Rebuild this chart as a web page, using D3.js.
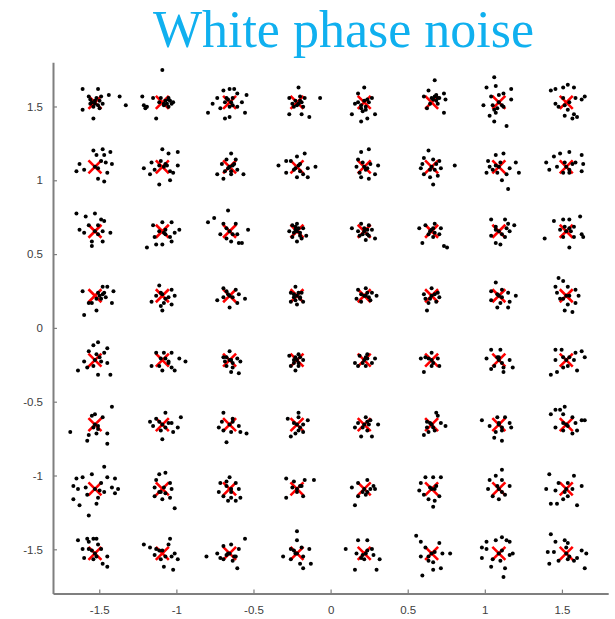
<!DOCTYPE html>
<html>
<head>
<meta charset="utf-8">
<script src="https://cdn.jsdelivr.net/npm/d3@7"></script>
<style>
  body { margin: 0; background: #fff; }
  svg { display: block; }
</style>
</head>
<body>
<script>
// 64-QAM constellation with white phase noise
const chartTitle = "White phase noise";

// ideal symbol levels on the in-phase axis (left to right)
const iLevels = [-1.528, -1.091, -0.655, -0.218, 0.218, 0.655, 1.091, 1.528];
// ideal symbol levels on the quadrature axis (top row first)
const qLevels = [1.528, 1.091, 0.655, 0.218, -0.218, -0.655, -1.091, -1.528];

const xTickValues = [-1.5, -1, -0.5, 0, 0.5, 1, 1.5];
const yTickValues = [-1.5, -1, -0.5, 0, 0.5, 1, 1.5];
const xTickLabels = ["-1.5", "-1", "-0.5", "0", "0.5", "1", "1.5"];
const yTickLabels = ["-1.5", "-1", "-0.5", "0", "0.5", "1", "1.5"];

// received samples: offsets from each ideal symbol, in hundredths,
// stored as [dI, dQ, dI, dQ, ...], one list per column
const noiseRow1 = [
  [-8,9, 2,9, -4,4, 4,4, 9,5, -8,-5, -1,-11, 3,-4, 5,-1, -3,-1, 16,4, 20,-2, 0,1, 2,-2, -2,0, 1,3, -1,-3, 3,1, -3,2, 0,-1],
  [-13,4, -12,-2, -10,-3, -4,-11, -6,3, -1,3, 4,3, 7,0, 4,-3, 1,-2, 0,22, -11,-4, 2,1, 3,-1, 5,1, 1,-1, -2,0, 4,2, 6,-1],
  [-14,-7, -11,-1, -8,3, -4,8, 0,9, 3,9, 5,6, 11,5, 8,0, 10,-7, 5,-3, -3,-11, 0,-10, -6,-4, 2,3, -2,3, 1,0, -1,2, 2,-2, 0,-3, -3,0],
  [1,10, -5,3, 2,4, 5,3, 15,3, -5,-8, 3,-8, 8,-10, 4,-3, -2,-3, 1,-1, -1,1, 2,1, 0,-2, -3,-1, 3,0],
  [0,10, -4,6, -6,-1, -8,-8, -2,-13, 2,-11, 7,-8, 5,3, 1,-3, -2,-4, -4,0, 3,0, 0,1, -2,-2, 1,-5, -1,-6, 2,2],
  [2,15, -2,8, -5,4, 3,5, 8,6, 9,2, 8,-7, -3,-4, 4,-1, 0,3, 5,3, 1,2, 3,1, -1,-1, 2,4, 4,3],
  [-3,17, -8,10, -2,11, 8,9, 3,6, -5,4, 8,2, -10,-2, -6,-9, -3,-13, 5,-16, -3,-5, -4,-2, 3,-3, 0,5, -2,-7, -1,-4, 0,0, 2,-2],
  [-10,8, -7,9, -2,10, 1,12, 5,10, 12,4, 10,2, 6,3, -7,-1, -5,-3, -1,-9, 5,-8, 4,-11, 7,-10, 1,-5, -2,3, 2,0, -1,-2]
];
const noiseRow2 = [
  [-1,11, 5,12, 10,10, 6,8, 11,2, -10,2, -12,-3, -7,-2, 2,-8, 6,-10, 8,-4, 1,8, 4,4, 7,3, 0,0, 2,-1],
  [0,12, 4,9, 10,10, -7,3, -12,-1, -8,-5, -2,-12, 5,-9, 7,-4, 10,1, 2,2, -1,4, -5,-2, 5,-3, 1,0, 3,1, -2,1],
  [1,9, -2,5, -5,2, -8,-5, -4,-8, 5,-2, 9,-5, 3,2, 1,-3, -3,-3, 4,5, 0,0, 2,1, -1,-1, 1,-5],
  [5,9, 0,7, -7,4, -12,1, -4,4, 2,2, 7,-1, 12,0, 7,-7, 4,-5, -2,-2, -7,-4, 0,-7, 1,1, -1,-1, 2,-3],
  [-2,10, 3,12, -4,5, -5,0, 4,2, 9,1, 7,-5, 3,-8, -2,-7, 1,-2, -3,-4, 0,0, 2,-1, -1,3],
  [-2,11, -5,6, -6,2, -7,-1, -5,-5, 1,-12, -1,-7, 4,-6, 6,-1, 5,4, 15,1, 1,5, -1,-2, 2,-2, 0,0, 3,2],
  [-2,8, 3,9, -7,4, -6,0, -8,-4, -1,-4, 2,-9, 6,-15, 11,3, 13,-4, 7,-1, 1,3, -4,-2, 5,-5, 0,0, -2,1],
  [-8,7, -4,9, 2,10, 10,8, 6,3, 11,2, 10,-3, -13,3, -11,-2, -6,0, -2,-4, 2,-4, 4,2, -1,3, 0,0, 2,-2]
];
const noiseRow3 = [
  [-12,12, -6,10, 0,12, 4,8, 6,7, -10,1, -7,-1, 10,-1, 5,0, -2,-7, -2,-10, 5,-7, 2,4, -4,4, 0,0, 2,-2],
  [0,6, 6,6, -6,4, 11,1, -5,-4, 2,-2, 6,-7, -10,-11, -4,-9, 0,-9, 5,-4, 8,-1, -2,0, 2,1, 1,-1],
  [-1,14, -10,9, -14,6, -4,5, 4,5, 12,1, -6,-2, -2,-5, 1,-7, 6,-8, 8,-8, 5,-2, 0,0, -2,2, 2,-2],
  [-5,0, -3,4, 0,5, 4,2, 6,-3, 3,-5, 0,-7, -3,-4, -1,1, 2,-1, 0,0, 1,2, -2,-1, 2,-3, -1,3],
  [-8,2, -2,5, 3,4, 5,1, 7,-5, 1,-6, -3,-3, 2,-2, 0,2, -4,0, 0,0, 2,1, -1,-2, 3,-3],
  [-8,2, -4,4, 2,5, 6,2, 5,-2, 1,-4, -2,-2, -6,-8, 8,-10, 10,-11, 0,1, -1,0, 2,-1, 1,2],
  [-5,8, 4,8, 6,5, -2,3, 10,4, 7,0, -5,-3, -2,-8, 1,-9, 4,-4, 5,2, 0,0, -2,1, 2,-2],
  [-8,7, -2,8, 2,8, 9,10, 5,3, -14,-5, -4,1, -2,-4, 2,-11, 5,-4, 10,-2, 11,-4, 3,0, -1,3, 0,0, 2,2]
];
const noiseRow4 = [
  [-8,3, 5,6, 8,6, 12,3, 11,-5, 4,-2, 7,-1, -2,-5, -4,-5, 1,-10, -7,-13, 5,1, 2,2, 3,0, 6,2, 1,-2],
  [-2,7, 6,4, 8,0, 4,-1, 1,-5, 6,-6, -1,-7, 0,-10, -7,-4, -4,0, 0,1, 2,-2, -1,2],
  [-4,5, 4,4, 6,1, 10,-2, 5,-5, 0,-8, -8,-3, -4,-1, -1,1, 2,-1, 0,0, -2,3],
  [-1,6, -4,2, 3,2, 4,-4, 0,-6, -4,-4, -2,-1, 2,-1, 0,0, 1,2, -2,1, 2,-2, -1,-3],
  [-4,4, 1,5, 5,2, 8,0, 4,-3, -2,-4, -5,-2, 1,0, 3,-1, 0,0, -2,1, 2,2],
  [0,5, -5,1, -4,-2, 5,-1, 3,-4, -2,-5, -3,-10, 4,2, -1,-2, 0,0, 2,1],
  [-2,9, -5,3, 2,4, 6,2, 11,0, 7,-4, 1,-5, -1,-8, 6,-8, -5,-3, 0,0, 2,-1, -1,1],
  [-5,12, -2,10, -7,6, -6,2, 1,6, 6,4, 8,0, 6,-5, 1,-6, -1,-10, 4,-11, -4,-2, 2,0, 0,0, -2,-2]
];
const noiseRow5 = [
  [2,12, -1,10, 8,8, -4,6, 6,5, 1,4, -7,-1, 4,-1, 8,-2, -11,-7, -5,-5, 2,-10, 10,-10, -1,-4, 0,0, 3,2],
  [-4,5, 1,5, 6,5, 11,1, 15,-1, -7,-4, -1,1, 4,-1, 6,-5, 8,-7, 0,-7, -2,-4, 2,1, 4,-2],
  [0,6, -4,2, 5,1, 7,-1, -2,-4, 2,-5, 1,-8, 6,-9, -3,-1, 1,0, 0,0, -2,2, 2,-2],
  [-5,3, 1,4, 4,0, 1,-4, -4,-4, -1,-7, -2,0, 0,0, 2,2, -2,-2, 1,-2, -1,2],
  [-6,-2, -3,3, 2,4, 7,1, 5,-2, 1,-4, -4,-4, 0,0, 2,1, -1,-2, 1,2],
  [0,5, -7,1, -4,2, 4,1, 5,-4, 0,-4, -5,-8, 1,-2, 0,0, -2,1],
  [-5,7, 1,7, -8,1, 7,0, 9,-5, 3,-5, -3,-4, -5,-6, 3,-8, 0,2, 0,0, 2,-2, -1,2],
  [-7,7, -3,7, 6,5, 10,6, 12,2, -7,0, -2,2, 5,0, 7,-7, -6,-8, -10,-10, 1,-4, -2,-5, 0,0, 2,2]
];
const noiseRow6 = [
  [11,12, -2,6, 0,7, 5,5, -16,-5, -4,-7, 1,-6, 8,-6, -5,-11, 8,-13, 2,-1, -1,-2, 0,0, 2,-3],
  [-8,2, -4,4, 2,8, 6,1, 12,5, 10,-2, 7,-5, -1,-4, -6,-1, 0,-10, 4,1, 0,0, -2,2, 2,-2],
  [-4,8, -5,2, -7,-2, 2,4, 6,-1, 7,-5, 11,-6, 1,-5, -2,-12, -4,-4, 0,0, 2,2],
  [1,8, -6,4, 1,5, 7,3, 4,0, 1,-4, -4,-8, -1,-6, 4,-5, 0,0, -2,1, 2,-2],
  [1,5, -4,1, -6,-2, 4,3, 9,0, 2,-4, -2,-8, 5,-8, 0,0, 3,0, -1,-2, 2,2],
  [3,8, 4,6, -3,2, 6,1, 9,-1, 2,-4, -2,-5, -5,-7, 0,0, -1,1, 1,-2, -3,-2],
  [-11,3, -1,5, 4,5, 7,1, 8,-2, 2,-4, -2,-5, -3,-9, 2,-11, -6,-1, 0,1, 0,0, 2,-2],
  [-10,7, -7,10, -4,10, -1,12, -2,7, 4,5, 10,3, 12,3, 6,1, -7,-2, -2,-4, 4,-6, 7,-4, 1,-1, 0,0, -2,1]
];
const noiseRow7 = [
  [6,15, -12,7, -8,8, -2,10, 8,8, 13,7, -14,2, -11,0, 15,0, 11,1, 6,-2, 13,-3, -14,-7, -10,-11, -5,-4, 2,-6, 1,-10, -4,-18, 4,4, -6,1, 0,0, 3,-1],
  [-2,10, 2,11, -4,6, 5,4, -5,1, 6,0, -5,-5, 0,-7, 5,-6, 8,-13, -1,-2, 1,1, -2,-2, 2,-3],
  [0,8, -6,4, -7,-2, -2,5, 4,4, 6,0, 7,-6, 1,-6, -4,-5, -1,-8, 4,-8, 1,0, -2,2, 1,-2],
  [-7,7, -2,5, 5,6, 11,6, 3,2, 4,-5, -7,-6, 0,-2, -3,1, 0,0, 2,2],
  [-4,4, 2,6, 6,2, 7,0, 1,-4, -4,-5, -6,-11, -8,1, -1,-2, 4,0, 0,0, 2,-2],
  [-4,8, 1,8, 6,8, -7,4, -8,-1, -5,-4, 2,0, 5,-5, -2,-7, 2,-8, 1,-12, -1,1, 0,0, 3,2],
  [2,13, -2,9, -6,6, 2,6, 7,2, -7,0, -4,-5, 0,-7, 4,-4, -1,2, 0,0, 2,-2],
  [-11,10, 5,9, -5,4, -13,0, -7,-1, -1,-2, 10,2, 4,0, -10,-10, -6,-10, -2,-7, 7,-11, 1,-5, 1,4, 0,0]
];
const noiseRow8 = [
  [-11,9, -5,10, -1,10, 1,10, -4,8, 2,6, -8,3, -4,3, 4,3, 8,-2, 8,-9, 5,-7, -1,-4, -7,-3, 1,-2, 0,0, -2,2],
  [-12,6, -8,4, 5,10, 4,6, -4,3, 8,0, 10,-4, 6,-2, -1,-4, 1,-9, 7,-11, -5,-1, 0,2, 2,-2, -2,2],
  [-15,-2, -8,0, -4,5, 1,6, 10,10, 6,3, 4,-2, 2,-5, 5,-10, -4,-4, -6,-3, -1,0, 0,0, 3,-2, -2,-1],
  [0,15, 0,9, -4,3, -9,-2, 3,4, 8,3, 9,-7, 4,-10, 2,-7, -4,-4, -1,0, 4,-2, 0,0, -2,2],
  [-12,3, -4,9, 2,9, -5,0, 5,3, 6,-1, 10,-4, 8,-11, -6,-11, 0,-4, -2,-3, 1,0, 2,2, -1,-1],
  [-10,12, -7,8, -4,4, 5,7, 7,0, 12,0, -7,-2, -2,-5, 1,-6, 6,-10, 1,-11, -6,-15, 2,1, 0,0, -2,-2],
  [-8,8, -2,9, 2,11, 5,9, 7,8, -11,4, -8,3, -4,-4, -5,-9, 1,-5, 4,-10, 3,-16, 7,-1, 9,0, -11,-3, 0,0, 2,2],
  [-10,13, -7,8, -1,9, 1,7, 0,4, -12,1, -8,1, 10,2, 13,0, 7,-3, 5,-5, -5,-5, 1,-4, 12,-10, -11,-7, 0,0, 2,-2]
];
const noiseRows = [noiseRow1, noiseRow2, noiseRow3, noiseRow4, noiseRow5, noiseRow6, noiseRow7, noiseRow8];
const offsetUnit = 0.01;

// ideal symbols and received samples as data-space points
const symbols = [];
const received = [];
qLevels.forEach((q, r) => {
  iLevels.forEach((i, c) => {
    symbols.push({ i, q });
    const off = noiseRows[r][c];
    for (let k = 0; k < off.length; k += 2) {
      received.push({ i: i + off[k] * offsetUnit, q: q + off[k + 1] * offsetUnit });
    }
  });
});

const W = 615, H = 619;
const svg = d3.select("body").append("svg").attr("width", W).attr("height", H);

const x = d3.scaleLinear().domain([-1.8, 1.8]).range([53, 608.2]);
const y = d3.scaleLinear().domain([-1.8, 1.8]).range([593.6, 62.2]);

// title
svg.append("text")
  .attr("x", 343.5).attr("y", 46.5)
  .attr("text-anchor", "middle")
  .style("font-family", "'Liberation Serif', 'Times New Roman', serif")
  .style("font-size", "52px")
  .style("fill", "#10b0ef")
  .text(chartTitle);

// axes (ticks point into the plot)
const axisColor = "#7f7f7f";
const gx = svg.append("g")
  .attr("transform", `translate(0,${y(-1.8)})`)
  .call(d3.axisBottom(x).tickValues(xTickValues)
    .tickFormat((d, idx) => xTickLabels[idx])
    .tickSizeInner(-4).tickSizeOuter(0).tickPadding(12));
const gy = svg.append("g")
  .attr("transform", `translate(${x(-1.8)},0)`)
  .call(d3.axisLeft(y).tickValues(yTickValues)
    .tickFormat((d, idx) => yTickLabels[idx])
    .tickSizeInner(-4).tickSizeOuter(0).tickPadding(10));

[gx, gy].forEach(g => {
  g.select(".domain").attr("stroke", axisColor).attr("stroke-width", 2);
  g.selectAll(".tick line").attr("stroke", axisColor).attr("stroke-width", 1.2);
  g.selectAll(".tick text")
    .style("font-family", "'Liberation Sans', Arial, sans-serif")
    .style("font-size", "11.5px")
    .style("fill", "#404040");
});

// ideal constellation points (red crosses)
const s = 6.5;
svg.append("g").selectAll("path").data(symbols).join("path")
  .attr("d", d => {
    const cx = x(d.i), cy = y(d.q);
    return `M${cx - s},${cy - s}L${cx + s},${cy + s}M${cx - s},${cy + s}L${cx + s},${cy - s}`;
  })
  .attr("stroke", "#ff0000")
  .attr("stroke-width", 2.6)
  .attr("fill", "none");

// received samples (black dots)
svg.append("g").selectAll("circle").data(received).join("circle")
  .attr("cx", d => x(d.i))
  .attr("cy", d => y(d.q))
  .attr("r", 2)
  .attr("fill", "#000");
</script>
</body>
</html>
